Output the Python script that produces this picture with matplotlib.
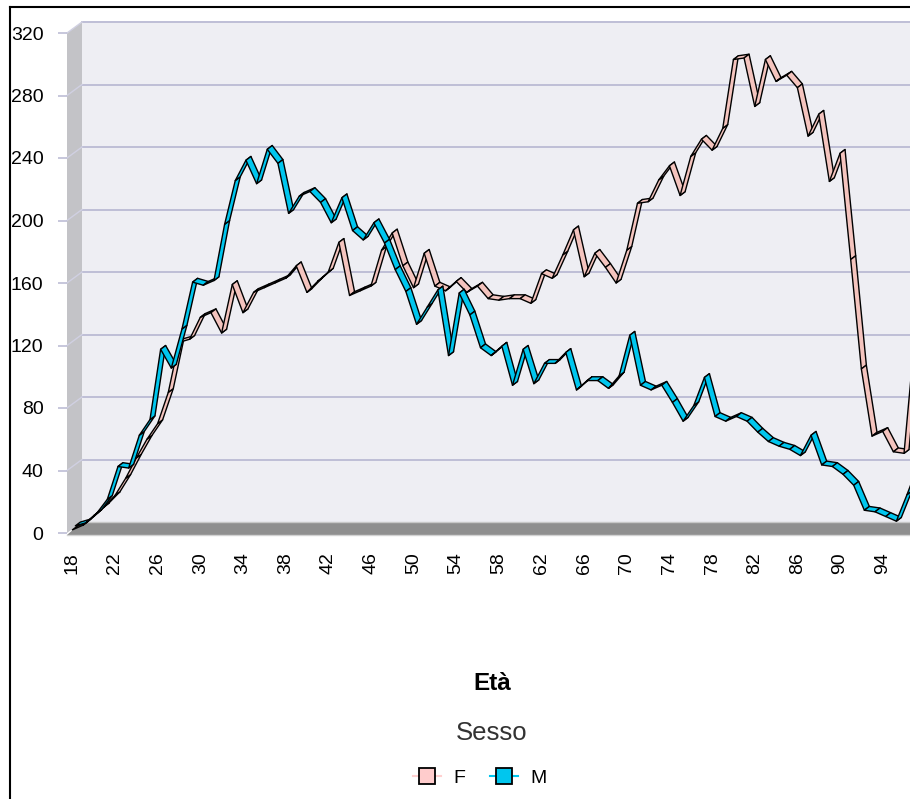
import numpy as np
import matplotlib
matplotlib.use('Agg')
import matplotlib.pyplot as plt
from matplotlib.collections import PolyCollection
from matplotlib.patches import Polygon, Rectangle
from matplotlib.lines import Line2D
from matplotlib.transforms import IdentityTransform, ScaledTranslation

plt.rcParams['font.family'] = ['Liberation Sans', 'DejaVu Sans']

# età 18..97
eta = list(range(18, 98))
femmine = [2, 5, 11, 17, 24, 35, 48, 60, 70, 90,
           122, 124, 138, 141, 128, 159, 141, 154, 157, 160,
           163, 171, 154, 161, 167, 186, 152, 155, 158, 181,
           192, 171, 157, 179, 158, 155, 161, 154, 158, 150,
           149, 150, 150, 147, 166, 163, 178, 194, 164, 179,
           170, 160, 181, 211, 212, 226, 235, 216, 241, 252,
           245, 259, 303, 304, 273, 303, 289, 293, 285, 254,
           268, 225, 243, 175, 105, 62, 65, 52, 51, 125]
maschi = [2, 4, 10, 19, 40, 39, 60, 70, 115, 103,
          128, 158, 156, 159, 195, 223, 236, 221, 243, 234,
          202, 213, 216, 209, 196, 212, 191, 185, 196, 183,
          166, 152, 131, 142, 153, 111, 151, 137, 116, 111,
          117, 92, 115, 93, 106, 106, 113, 89, 95, 95,
          90, 98, 124, 92, 89, 92, 81, 69, 79, 97,
          72, 69, 72, 69, 62, 56, 53, 51, 47, 60,
          41, 40, 35, 28, 12, 11, 8, 5, 22, 40]
y_ticks = list(range(0, 321, 40))
x_ticks = list(range(18, 95, 4))

COL_F = '#F4C4BE'
COL_M = '#00C6EE'
GRID = '#BEBED6'

W, H = 910, 799
fig = plt.figure(figsize=(W / 100, H / 100), dpi=100)
ax = fig.add_axes([67 / W, 266 / H, 853 / W, 500 / H])
ax.set_xlim(17.5, 97.5)
ax.set_ylim(0, 320)
ax.patch.set_visible(False)
for s in ax.spines.values():
    s.set_visible(False)

# profondità delle pareti in pixel
depth = np.array([15.0, 11.0])
off = ScaledTranslation(depth[0] / 100, depth[1] / 100, fig.dpi_scale_trans)
x0, x1 = ax.get_xlim()


def px(x, y):
    return ax.transData.transform((x, y))


# parete di fondo
ax.add_patch(Rectangle((x0, 0), x1 - x0, 320, transform=ax.transData + off,
                       fc='#EEEEF3', ec='none', clip_on=False, zorder=0))
# parete sinistra
bl, tl = px(x0, 0), px(x0, 320)
ax.add_patch(Polygon([bl, tl, tl + depth, bl + depth], closed=True,
                     transform=IdentityTransform(), fc='#C3C3C7', ec='none',
                     clip_on=False, zorder=0.2))
# pavimento
br = px(x1, 0)
ax.add_patch(Polygon([bl + [0, -2], br + [0, -2], br + depth, bl + depth], closed=True,
                     transform=IdentityTransform(), fc='#8F8F8F', ec='none',
                     clip_on=False, zorder=0.2))
ax.add_line(Line2D([bl[0], br[0]], [bl[1] - 2, br[1] - 2], transform=IdentityTransform(),
                   color='#D2D2D2', lw=1, clip_on=False, zorder=0.3))
ax.add_line(Line2D([bl[0] + depth[0], br[0] + depth[0]], [bl[1] + depth[1]] * 2,
                   transform=IdentityTransform(), color='#C8C8C8', lw=1,
                   clip_on=False, zorder=0.3))

# griglia
for v in y_ticks[1:]:
    ax.plot([x0, x1], [v, v], transform=ax.transData + off, color=GRID, lw=1.4,
            clip_on=False, zorder=0.5)
    p = px(x0, v)
    ax.add_line(Line2D([p[0], p[0] + depth[0]], [p[1], p[1] + depth[1]],
                       transform=IdentityTransform(), color='#D0D0E2', lw=1,
                       clip_on=False, zorder=0.5))

# nastri 3D delle serie
rib = np.array([5.0, 3.8])


def ribbon(vals, shift, color):
    pts = ax.transData.transform(np.column_stack([eta, vals])) + shift
    quads = [[pts[i], pts[i + 1], pts[i + 1] + rib, pts[i] + rib]
             for i in range(len(pts) - 1)]
    pc = PolyCollection(quads, transform=IdentityTransform(), facecolors=color,
                        edgecolors='black', linewidths=1.0, clip_on=False, zorder=3)
    ax.add_collection(pc, autolim=False)


ribbon(femmine, np.array([0.0, 0.0]), COL_F)
ribbon(maschi, np.array([3.0, 4.0]), COL_M)

# assi
ax.set_yticks(y_ticks)
ax.tick_params(axis='y', length=6.5, width=1.2, color=GRID, pad=10.5, labelsize=14)
ax.set_xticks(x_ticks)
ax.tick_params(axis='x', length=0, pad=14, labelsize=14, labelrotation=90)

# cornice
fig.add_artist(Line2D([9.5 / W, 9.5 / W], [0, 1 - 6.5 / H], transform=fig.transFigure,
                      color='black', lw=1.5))
fig.add_artist(Line2D([9.5 / W, 1], [1 - 6.5 / H, 1 - 6.5 / H], transform=fig.transFigure,
                      color='black', lw=1.5))

fig.text(492 / W, 1 - 683 / H, 'Età', ha='center', va='center', fontsize=17.5,
         fontweight='bold')
fig.text(492 / W, 1 - 733 / H, 'Sesso', ha='center', va='center', fontsize=18.5,
         color='#333333')

handles = [Line2D([], [], color='#FFD0D0', lw=1.5, marker='s', markersize=11.5,
                  markerfacecolor='#FFCCCC', markeredgecolor='black', markeredgewidth=1.3),
           Line2D([], [], color=COL_M, lw=1.5, marker='s', markersize=11.5,
                  markerfacecolor=COL_M, markeredgecolor='black', markeredgewidth=1.3)]
fig.legend(handles, ['F', 'M'], loc='center', bbox_to_anchor=(480 / W, 1 - 778 / H),
           ncol=2, frameon=False, fontsize=14, handlelength=1.4, handletextpad=0.65,
           columnspacing=1.3)

fig.savefig('out.png', dpi=100)
